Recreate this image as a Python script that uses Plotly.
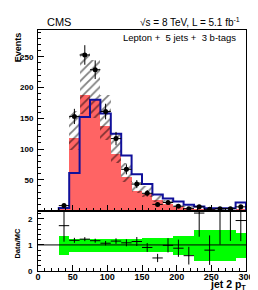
import numpy as np
import plotly.graph_objects as go

# ---- data ----
bin_edges = [30, 45, 60, 75, 90, 105, 120, 135, 150, 165, 180, 195, 210, 225, 240, 255, 270, 285, 300]
data_counts = [8, 153, 253, 229, 161, 117, 67, 43, 28, 10, 13, 7, 3, 6, 2, 3, 3, 6]
mc_total = [4.6, 130, 207, 197, 151, 102, 62, 38, 31, 20, 13.2, 8, 5.1, 2.7, 2.5, 1.25, 1.1, 3.1]
mc_magenta = [0.5, 6, 6.5, 2, 1.5, 1, 1, 0.8, 0.6, 0.5, 0.4, 0.3, 0.3, 0.2, 0.2, 0.1, 0.1, 0.2]
mc_maroon = [0.5, 4, 8, 9, 7.5, 6, 4, 2.7, 1.9, 1.2, 1, 0.7, 0.5, 0.3, 0.3, 0.2, 0.2, 0.3]
mc_darkred = [0.5, 2, 4.5, 5, 4.5, 3.7, 3, 2.5, 1.5, 1, 0.8, 0.5, 0.4, 0.3, 0.3, 0.2, 0.2, 0.3]
blue_shape = [4, 61, 152, 180, 158, 125, 89.5, 59, 43, 26, 19.5, 14.7, 9.5, 6.5, 3.7, 3.7, 3.7, 13]
mc_rel_err = [0.35, 0.24, 0.24, 0.24, 0.24, 0.24, 0.24, 0.24, 0.27, 0.27, 0.27, 0.35, 0.35, 0.6, 0.6, 0.6, 0.6, 0.47]
ratio_yticks = [0, 1, 2]
events_yticks = [50, 100, 150, 200, 250]
x_ticks = [0, 50, 100, 150, 200, 250, 300]

edges = np.array(bin_edges, dtype=float)
centers = 0.5 * (edges[:-1] + edges[1:])
widths = np.diff(edges)
data = np.array(data_counts, dtype=float)
tot = np.array(mc_total)
mag = np.array(mc_magenta)
mar = np.array(mc_maroon)
drd = np.array(mc_darkred)
main = tot - mag - mar - drd
rel = np.array(mc_rel_err)
ratio = data / tot
ratio_err = np.sqrt(data) / tot

fig = go.Figure()

# stacked MC
for vals, col in [(mag, "#FF00FF"), (mar, "#8B0000"), (drd, "#CC0000"), (main, "#FF6464")]:
    fig.add_trace(go.Bar(x=centers, y=vals, width=widths, marker=dict(color=col, line=dict(width=0)),
                         xaxis="x", yaxis="y", showlegend=False))

# hatched uncertainty band
fig.add_trace(go.Bar(x=centers, y=2 * rel * tot, base=tot * (1 - rel), width=widths,
                     marker=dict(color="rgba(0,0,0,0)", line=dict(width=0),
                                 pattern=dict(shape="/", fgcolor="black", bgcolor="rgba(0,0,0,0)",
                                              size=6, solidity=0.3)),
                     xaxis="x", yaxis="y", showlegend=False))

# blue outline histogram
bx = [edges[0]] + list(edges[:-1]) + [edges[-1], edges[-1]]
by = [0] + list(blue_shape) + [blue_shape[-1], 0]
fig.add_trace(go.Scatter(x=bx, y=by, mode="lines", line=dict(color="#10109A", width=2, shape="hv"),
                         xaxis="x", yaxis="y", showlegend=False))

# data
fig.add_trace(go.Scatter(x=centers, y=data, mode="markers",
                         marker=dict(color="black", size=5),
                         error_x=dict(type="data", array=widths / 2, color="black", thickness=1, width=0),
                         error_y=dict(type="data", array=np.sqrt(data), color="black", thickness=1, width=0),
                         xaxis="x", yaxis="y", showlegend=False))

# ratio band
fig.add_trace(go.Bar(x=centers, y=2 * rel, base=1 - rel, width=widths,
                     marker=dict(color="#00FF00", line=dict(width=0)),
                     xaxis="x2", yaxis="y2", showlegend=False))

# ratio points
fig.add_trace(go.Scatter(x=centers, y=ratio, mode="markers",
                         marker=dict(color="black", size=1),
                         error_x=dict(type="data", array=widths / 2, color="black", thickness=1, width=0),
                         error_y=dict(type="data", array=ratio_err, color="black", thickness=1, width=0),
                         xaxis="x2", yaxis="y2", showlegend=False, cliponaxis=True))

L, R, T, B = 29, 13, 22, 27.3
W, H = 258, 290
pw, ph = W - L - R, H - T - B
split = (262.7 - 202.3) / ph

def px(xp):
    return (xp - L) / pw

def py(yp):
    return (H - B - yp) / ph

FAM = "Liberation Sans, Arial, sans-serif"
ytickfont = dict(family=FAM, size=8, color="black", weight="bold")
xtickfont = dict(family=FAM, size=9, color="black", weight="bold")
common_x = dict(range=[0, 300], ticks="inside", ticklen=6, tickwidth=1, tickcolor="black",
                showline=True, linecolor="black", linewidth=1, mirror=True, showgrid=False,
                zeroline=False, tickvals=x_ticks,
                minor=dict(ticks="inside", ticklen=3, dtick=10, tickcolor="black", showgrid=False))

fig.update_layout(
    width=W, height=H, margin=dict(l=L, r=R, t=T, b=B),
    paper_bgcolor="white", plot_bgcolor="white",
    barmode="overlay", bargap=0,
    font=dict(family=FAM, color="black"),
    xaxis=dict(common_x, domain=[0, 1], anchor="y", showticklabels=False, matches="x2"),
    yaxis=dict(domain=[split, 1], anchor="x", range=[0, 293.6], tickvals=events_yticks,
               ticks="inside", ticklen=6, tickcolor="black", showline=True, linecolor="black",
               mirror=True, showgrid=False, zeroline=False, tickfont=ytickfont, ticklabelstandoff=2,
               minor=dict(ticks="inside", ticklen=3, dtick=10, tickcolor="black", showgrid=False)),
    xaxis2=dict(common_x, domain=[0, 1], anchor="y2", tickfont=xtickfont, ticklabelstandoff=-3),
    yaxis2=dict(domain=[0, split], anchor="x2", range=[0, 2.32], tickvals=ratio_yticks,
                ticks="inside", ticklen=6, tickcolor="black", showline=True, linecolor="black",
                mirror=True, showgrid=False, zeroline=False, tickfont=ytickfont, ticklabelstandoff=3,
                minor=dict(ticks="inside", ticklen=3, dtick=0.2, tickcolor="black", showgrid=False)),
    shapes=[dict(type="line", xref="x2 domain", yref="y2", x0=0, x1=1, y0=1, y1=1,
                 line=dict(color="black", width=1))],
)

ann = [
    dict(text="CMS", x=px(36), y=py(14), xanchor="left", yanchor="middle", font=dict(size=11)),
    dict(text="\u221as = 8 TeV, L = 5.1 fb<sup>-1</sup>", x=px(241), y=py(14), xanchor="right",
         yanchor="middle", font=dict(size=10)),
    dict(text="Lepton +  5 jets +  3 b-tags", x=px(237), y=py(29), xanchor="right",
         yanchor="middle", font=dict(size=9.5)),
    dict(text="<b>Events</b>", x=px(8.5), y=py(22), xanchor="center", yanchor="top", textangle=-90,
         font=dict(size=9)),
    dict(text="<b>Data/MC</b>", x=px(8), y=py(234.5), xanchor="center", yanchor="middle", textangle=-90,
         font=dict(size=7.5)),
    dict(text="<b>jet 2 p<sub>T</sub></b>", x=px(246), y=py(276.5), xanchor="right", yanchor="middle",
         font=dict(size=10.5), borderpad=0),
]
for a in ann:
    a.update(xref="paper", yref="paper", showarrow=False)
fig.update_layout(annotations=ann)

fig.write_html("out.html")
